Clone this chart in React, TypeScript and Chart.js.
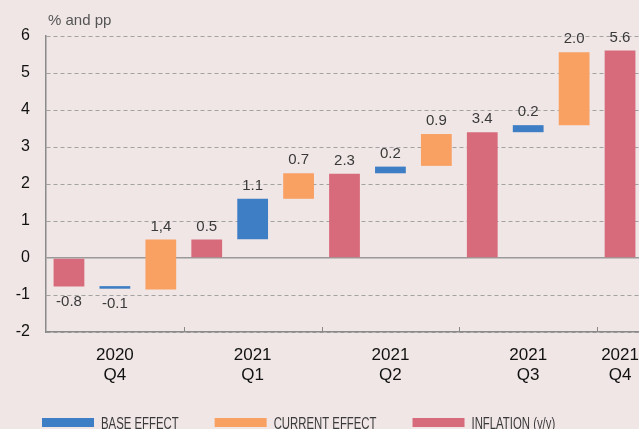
import React, { useEffect, useRef } from 'react';
import { Chart, registerables } from 'chart.js';

Chart.register(...registerables);

// ---- data ----
const categories: (string | string[])[] = [
  '', ['2020', 'Q4'], '', '', ['2021', 'Q1'], '', '', ['2021', 'Q2'], '', '', ['2021', 'Q3'], '', ['2021', 'Q4'],
];
const baseEffect = [null, [-0.76, -0.83], null, null, [0.51, 1.6], null, null, [2.29, 2.47], null, null, [3.4, 3.59], null, null];
const currentEffect = [null, null, [-0.85, 0.5], null, null, [1.6, 2.29], null, null, [2.49, 3.35], null, null, [3.59, 5.56], null];
const inflation = [[0, -0.77], null, null, [0, 0.5], null, null, [0, 2.28], null, null, [0, 3.4], null, null, [0, 5.61]];
const valueLabels = ['-0.8', '-0.1', '1,4', '0.5', '1.1', '0.7', '2.3', '0.2', '0.9', '3.4', '0.2', '2.0', '5.6'];
const seriesNames = ['BASE EFFECT', 'CURRENT EFFECT', 'INFLATION (y/y)'];
const yMin = -2;
const yMax = 6;
const yStep = 1;
const quarterBoundaries = [2, 5, 8, 11];
const unitLabel = '% and pp';

// ---- styles ----
const BG = '#f0e6e6';
const BLUE = '#3e7ec4';
const ORANGE = '#f9a063';
const PINK = '#d86b7b';
const FONT = '"Liberation Sans", Arial, Helvetica, sans-serif';

const bgPlugin = {
  id: 'bgFill',
  beforeDraw(chart: any) {
    const { ctx, width, height } = chart;
    ctx.save();
    ctx.fillStyle = BG;
    ctx.fillRect(0, 0, width, height);
    ctx.restore();
  },
};

const extrasPlugin = {
  id: 'extras',
  afterDraw(chart: any) {
    const { ctx, chartArea } = chart;
    const xs = chart.scales.x;
    ctx.save();
    // quarter separator tick marks
    ctx.strokeStyle = '#888';
    ctx.lineWidth = 1;
    quarterBoundaries.forEach((b) => {
      const x = Math.round((xs.getPixelForValue(b) + xs.getPixelForValue(b + 1)) / 2) + 0.5;
      ctx.beginPath();
      ctx.moveTo(x, chartArea.bottom - 5);
      ctx.lineTo(x, chartArea.bottom);
      ctx.stroke();
    });
    // value labels
    ctx.font = `15px ${FONT}`;
    ctx.fillStyle = '#3a3a3a';
    ctx.textAlign = 'center';
    ctx.textBaseline = 'middle';
    chart.data.datasets.forEach((ds: any, di: number) => {
      const meta = chart.getDatasetMeta(di);
      meta.data.forEach((el: any, i: number) => {
        const raw = ds.data[i];
        if (!raw) return;
        const top = Math.min(el.y, el.base);
        const bottom = Math.max(el.y, el.base);
        const below = Math.max(raw[0], raw[1]) <= 0;
        ctx.fillText(valueLabels[i], el.x, below ? bottom + 15 : top - 13);
      });
    });
    // unit label
    ctx.textAlign = 'left';
    ctx.fillStyle = '#555';
    ctx.font = `15px ${FONT}`;
    ctx.fillText(unitLabel, chartArea.left + 2, 21);
    // legend (condensed text)
    const colors = [BLUE, ORANGE, PINK];
    const squeeze = 0.71;
    let x = 42;
    ctx.font = `16px ${FONT}`;
    ctx.textBaseline = 'alphabetic';
    seriesNames.forEach((name, k) => {
      ctx.fillStyle = colors[k];
      ctx.fillRect(x, 418, 52, 9);
      ctx.fillStyle = '#3a3a3a';
      ctx.save();
      ctx.translate(x + 59, 428.5);
      ctx.scale(squeeze, 1);
      ctx.fillText(name, 0, 0);
      ctx.restore();
      x += 59 + ctx.measureText(name).width * squeeze + 36;
    });
    ctx.restore();
  },
};

export default function App() {
  const ref = useRef<HTMLCanvasElement>(null);
  useEffect(() => {
    const chart = new Chart(ref.current as HTMLCanvasElement, {
      type: 'bar',
      data: {
        labels: categories as any,
        datasets: [
          { label: seriesNames[0], data: baseEffect as any, backgroundColor: BLUE },
          { label: seriesNames[1], data: currentEffect as any, backgroundColor: ORANGE },
          { label: seriesNames[2], data: inflation as any, backgroundColor: PINK },
        ],
      },
      options: {
        animation: false,
        responsive: false,
        devicePixelRatio: 1,
        layout: { padding: { top: 36, right: 17, bottom: 37, left: 0 } },
        datasets: { bar: { barPercentage: 1, categoryPercentage: 0.67, borderWidth: 0 } },
        plugins: { legend: { display: false }, tooltip: { enabled: false }, title: { display: false } },
        scales: {
          x: {
            stacked: true,
            grid: { display: false, drawTicks: false },
            border: { display: true, color: '#8a8a8a', width: 1.5 },
            ticks: {
              autoSkip: false,
              maxRotation: 0,
              minRotation: 0,
              padding: 13,
              color: '#111',
              font: { family: FONT, size: 17, lineHeight: 1.2 },
            },
            afterFit(scale: any) { scale.height = 60; },
          },
          y: {
            min: yMin,
            max: yMax,
            grid: {
              drawTicks: false,
              color: (c: any) => (c.tick && c.tick.value === 0 ? '#9a9a9a' : '#a2a2a2'),
              lineWidth: (c: any) => (c.tick && c.tick.value === 0 ? 1.5 : 1),
            },
            border: {
              display: true,
              color: '#8a8a8a',
              width: 1.5,
              dash: (c: any) => (c.tick && c.tick.value === 0 ? [] : [4, 3]),
            },
            ticks: {
              stepSize: yStep,
              padding: 16,
              color: '#111',
              font: { family: FONT, size: 16 },
            },
            afterFit(scale: any) { scale.width = 46; },
          },
        },
      },
      plugins: [bgPlugin, extrasPlugin],
    } as any);
    return () => chart.destroy();
  }, []);
  return (
    <div style={{ position: 'fixed', left: 0, top: 0, width: 639, height: 429, overflow: 'hidden', background: BG }}>
      <canvas ref={ref} width={660} height={429} style={{ display: 'block', width: 660, height: 429 }} />
    </div>
  );
}
